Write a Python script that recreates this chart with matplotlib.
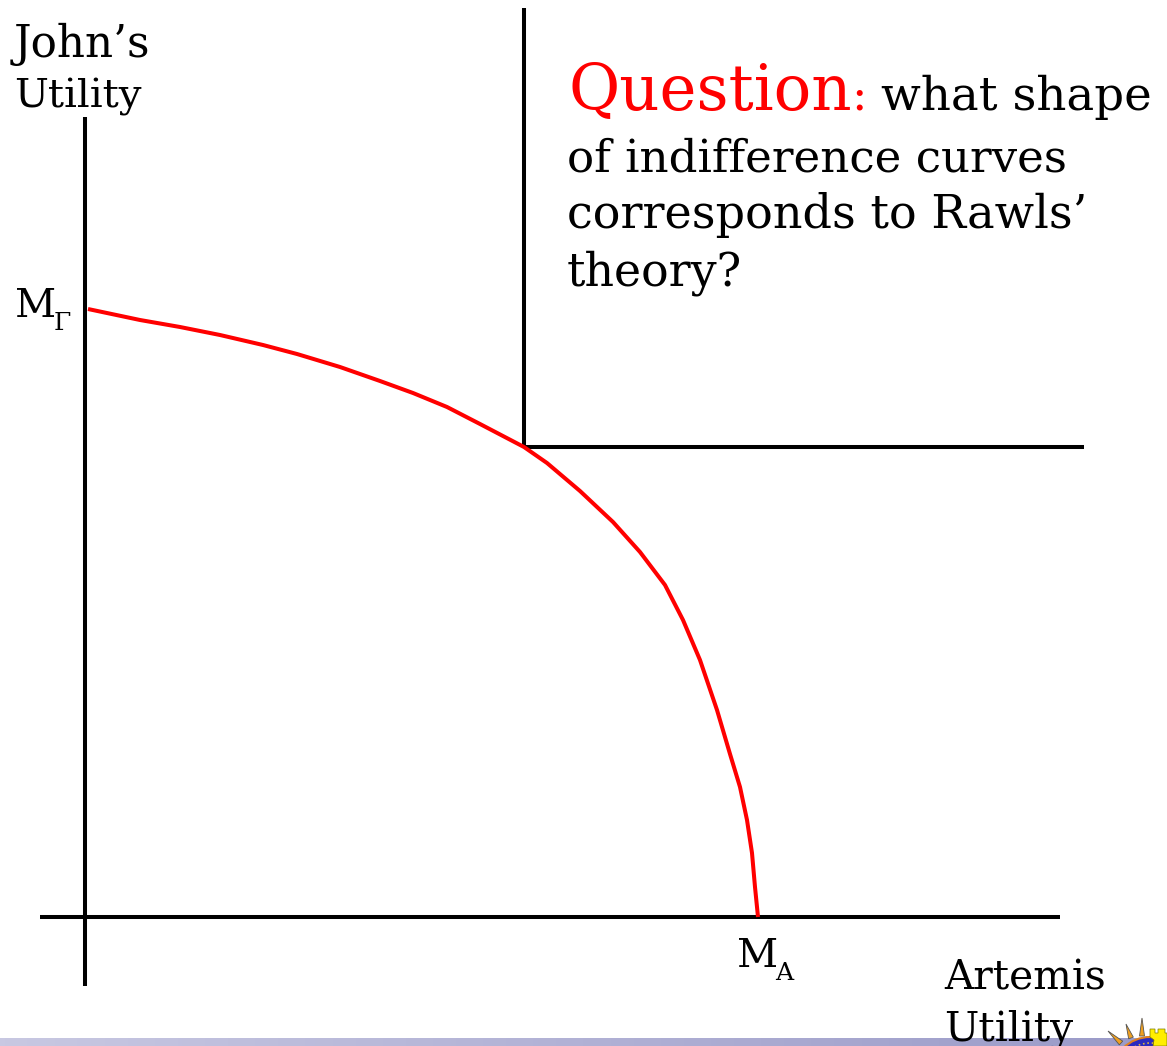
import numpy as np
import matplotlib
matplotlib.use("Agg")
import matplotlib.pyplot as plt
from matplotlib.patches import Circle, Polygon

frontier_x = [3, 55, 95, 135, 178, 212, 255, 295, 328, 362, 395, 439, 462, 495, 528, 555,
              580, 598, 615, 632, 645, 655, 662, 667, 670, 673]
frontier_y = [608, 597, 590, 582, 572, 563, 550, 536, 524, 510, 493, 470, 454, 426, 395, 365,
              332, 297, 257, 207, 163, 130, 97, 64, 30, 0]
kink_x = 439
kink_y = 470
question_lines = ["of indifference curves", "corresponds to Rawls\u2019", "theory?"]
question_sizes = [32.5, 33.2, 33]

W, H = 1167, 1046
X0, Y0 = 85, 917
fig = plt.figure(figsize=(W / 100, H / 100), dpi=100, facecolor="white")
ax = fig.add_axes([0, 0, 1, 1])


def px(x, y):
    return x - X0, Y0 - y


# footer band
grad = np.linspace(0, 1, 256)[None, :, None]
c0, c1 = np.array([200, 200, 226]) / 255, np.array([154, 154, 200]) / 255
ax.imshow(c0 + (c1 - c0) * grad, extent=[-X0, W - X0, Y0 - H, Y0 - 1038],
          aspect="auto", zorder=1)
ax.set_xlim(-X0, W - X0)
ax.set_ylim(Y0 - H, Y0)
ax.axis("off")

lw = 2.9
line_kw = dict(color="black", lw=lw, solid_capstyle="butt", zorder=3)
ax.plot([0, 0], [-69, 800], **line_kw)
ax.plot([-45, 975], [0, 0], **line_kw)
ax.plot([kink_x, kink_x], [kink_y, 909], **line_kw)
ax.plot([kink_x, 999], [kink_y, kink_y], **line_kw)
ax.plot(frontier_x, frontier_y, color="#ff0000", lw=2.9, solid_capstyle="butt",
        solid_joinstyle="round", zorder=4)

serif = "DejaVu Serif"


def label(x, y, s, size, color="black", z=5):
    ax.text(*px(x, y), s, family=serif, fontsize=size, color=color, va="baseline", ha="left", zorder=z)


label(14, 57, "John\u2019s", 31.5)
label(14, 108, "Utility", 29)
label(944, 990, "Artemis", 29.3)
label(944, 1041, "Utility", 29.3)
label(15, 317, "M", 29)
label(54, 330, "\u0393", 18)
label(737, 967, "M", 29)
label(775, 980, "A", 18)

label(568, 110, "Question", 45, "#ff0000")
label(851, 110, ":", 33, "#ff0000")
label(881, 110, "what shape", 33.6)
for y, s, fs in zip([171, 228, 285], question_lines, question_sizes):
    label(567, y, s, fs)

# crest in the corner
ccx, ccy = px(1150, 1075)
ax.add_patch(Circle((ccx, ccy), 38, fc="#2a2ac0", ec="#e08020", lw=1.5, zorder=6))
ax.add_patch(Circle((ccx, ccy), 32, fc="none", ec="#d8b040", lw=1.2, ls=":", zorder=6))
for base, tip in [((1142, 1036), (1142, 1018)), ((1131, 1038), (1126, 1024)), ((1121, 1043), (1108, 1031))]:
    b, t = np.array(px(*base)), np.array(px(*tip))
    d = (t - b) / np.linalg.norm(t - b)
    n = np.array([-d[1], d[0]]) * 2.5
    ax.add_patch(Polygon([b + n, t, b - n], fc="#f0a020", ec="#555555", lw=0.6, zorder=6))
castle = [(1153, 1046), (1154, 1040), (1150, 1037), (1150, 1029), (1155, 1029), (1155, 1033),
          (1158, 1033), (1158, 1029), (1165, 1029), (1165, 1033), (1167, 1033), (1167, 1046)]
ax.add_patch(Polygon([px(*p) for p in castle], fc="#ffee00", ec="#777700", lw=0.5, zorder=7))

fig.savefig("out.png", dpi=100, facecolor="white")
